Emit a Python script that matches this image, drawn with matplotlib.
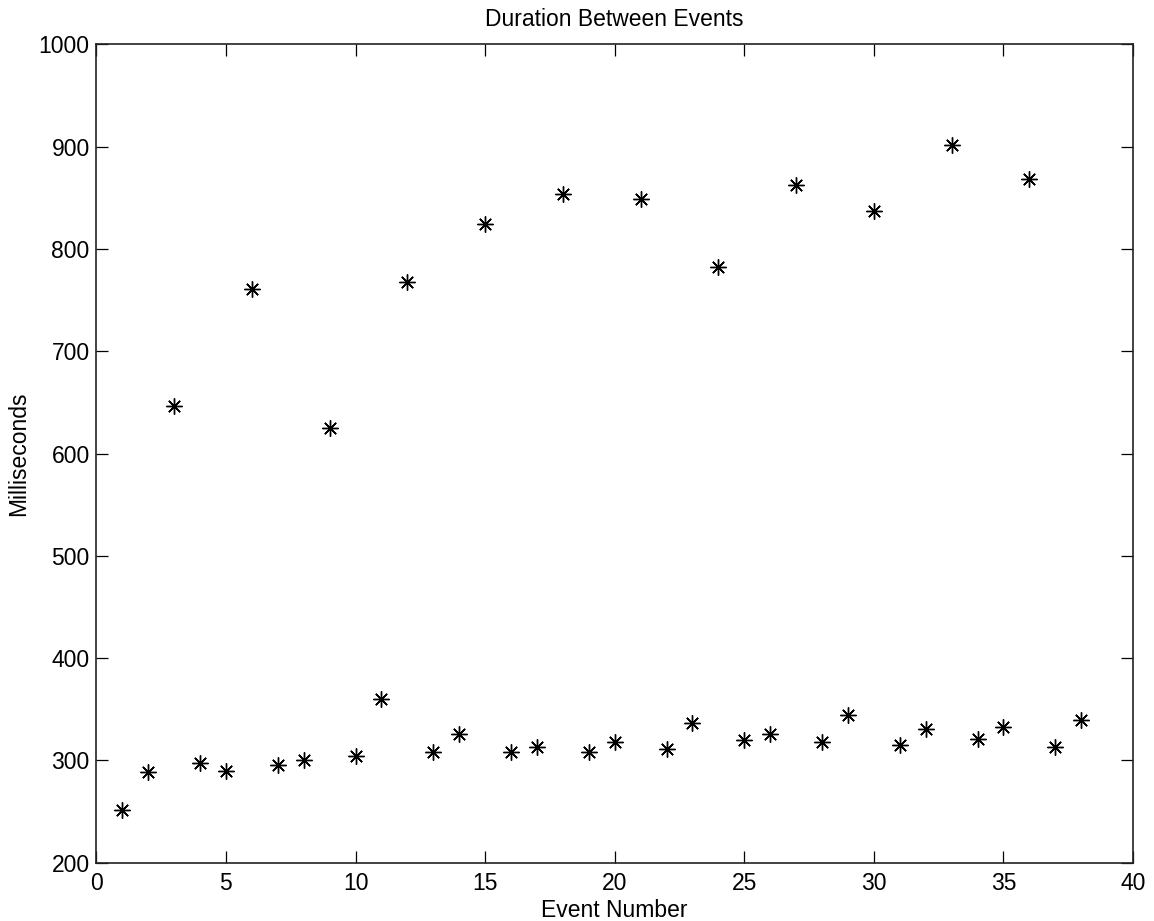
import numpy as np
import matplotlib
matplotlib.use('Agg')
import matplotlib.pyplot as plt

plt.rcParams['font.family'] = ['Liberation Sans', 'DejaVu Sans']

#------------------------------------------------------------------
# Data
#------------------------------------------------------------------
event_number = np.arange(1, 39)
milliseconds = [252, 289, 647, 297, 290, 761, 296, 300, 625, 304,
                360, 768, 308, 326, 824, 308, 313, 854, 308, 318,
                849, 311, 337, 782, 320, 326, 863, 318, 344, 837,
                315, 331, 902, 321, 333, 868, 313, 340]

x_ticks = [0, 5, 10, 15, 20, 25, 30, 35, 40]
y_ticks = [200, 300, 400, 500, 600, 700, 800, 900, 1000]

#------------------------------------------------------------------
# Figure
#------------------------------------------------------------------
fs = 16.5
fig = plt.figure(figsize=(11.54, 9.21), dpi=100)
ax = fig.add_axes([0.0835, 0.0633, 0.8983, 0.8884])

# asterisk marker like MATLAB '*'
ax.plot(event_number, milliseconds, linestyle='none', marker=(8, 2, 0),
        markersize=11.5, markeredgewidth=1.0, color='black')

ax.set_xlim(0, 40)
ax.set_ylim(200, 1000)
ax.set_xticks(x_ticks)
ax.set_yticks(y_ticks)

ax.tick_params(direction='in', length=8.4, width=0.9, top=True, right=True,
               labelsize=fs)
ax.tick_params(axis='x', pad=6.5)
ax.tick_params(axis='y', pad=4.8)
for s in ax.spines.values():
    s.set_linewidth(1.2)
    s.set_color('#222222')

ax.set_title('Duration Between Events', fontsize=fs, pad=13.3)
ax.set_xlabel('Event Number', fontsize=fs, labelpad=3)
ax.set_ylabel('Milliseconds', fontsize=fs, labelpad=6)

fig.savefig('out.png', dpi=100)
